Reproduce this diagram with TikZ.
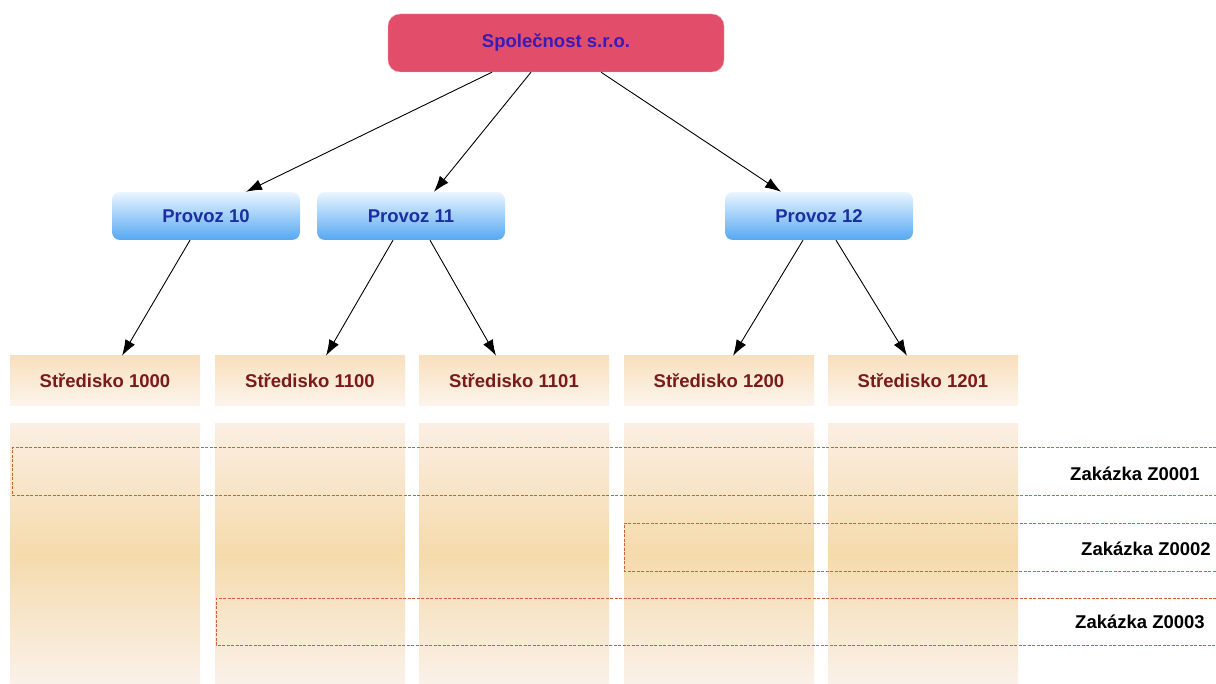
\documentclass[tikz,border=0pt]{standalone}
\usepackage{fontspec}
\setmainfont{Liberation Sans}
\usepackage{tikz}
\usetikzlibrary{arrows.meta}

\definecolor{firmred}{HTML}{E24D69}
\definecolor{firmline}{HTML}{F2A3B3}
\definecolor{firmtext}{HTML}{3B1BB8}
\definecolor{provtop}{HTML}{EAF5FF}
\definecolor{provbot}{HTML}{55A8F2}
\definecolor{provtext}{HTML}{1B2F9E}
\definecolor{strtop}{HTML}{F8E0BE}
\definecolor{strbot}{HTML}{FCF4EC}
\definecolor{strtext}{HTML}{7A1A1A}
\definecolor{coltop}{HTML}{FBEEE3}
\definecolor{colmid}{HTML}{F5DBAC}
\definecolor{colbot}{HTML}{FAF1E9}
\definecolor{zakline}{HTML}{D0603C}

\begin{document}
\begin{tikzpicture}[x=1pt, y=-1pt, >={Latex[length=16pt,width=11pt]},
  every node/.style={font=\bfseries\fontsize{18.5}{21}\selectfont},
  firm/.style={rectangle, rounded corners=12pt, draw=firmline, fill=firmred, text=firmtext, minimum width=336pt, minimum height=58pt},
  provoz/.style={rectangle, rounded corners=8pt, top color=provtop, bottom color=provbot, text=provtext, minimum width=188pt, minimum height=48pt},
  stredisko/.style={rectangle, top color=strtop, bottom color=strbot, text=strtext, minimum width=190pt, minimum height=50pt},
  sloupec/.style={rectangle, top color=coltop, bottom color=colbot, middle color=colmid, minimum width=190pt, minimum height=260pt},
  zakazka/.style={draw=zakline, dash pattern=on 3pt off 1.5pt, line width=1pt},
  link/.style={->, line width=0.9pt}]
  \useasboundingbox (0,0) rectangle (1216,684);

  % columns under the centres
  \foreach \i/\x in {1/105, 2/310, 3/514, 4/719, 5/923}
    \node (col\i) [sloupec] at (\x,554) {};

  \node (firm) [firm] at (556,43) {Společnost s.r.o.};
  \node (p10) [provoz] at (206,216) {Provoz 10};
  \node (p11) [provoz] at (411,216) {Provoz 11};
  \node (p12) [provoz] at (819,216) {Provoz 12};
  \node (s1000) [stredisko] at (105,381) {Středisko 1000};
  \node (s1100) [stredisko] at (310,381) {Středisko 1100};
  \node (s1101) [stredisko] at (514,381) {Středisko 1101};
  \node (s1200) [stredisko] at (719,381) {Středisko 1200};
  \node (s1201) [stredisko] at (923,381) {Středisko 1201};

  \draw[link] ([xshift=-64pt]firm.south) -- ([xshift=40pt]p10.north);
  \draw[link] ([xshift=-25pt]firm.south) -- ([xshift=23pt]p11.north);
  \draw[link] ([xshift=45pt]firm.south) -- ([xshift=-38pt]p12.north);
  \draw[link] ([xshift=-16pt]p10.south) -- ([xshift=17pt]s1000.north);
  \draw[link] ([xshift=-18pt]p11.south) -- ([xshift=16pt]s1100.north);
  \draw[link] ([xshift=19pt]p11.south) -- ([xshift=-18pt]s1101.north);
  \draw[link] ([xshift=-16pt]p12.south) -- ([xshift=14pt]s1200.north);
  \draw[link] ([xshift=17pt]p12.south) -- ([xshift=-16pt]s1201.north);

  % orders
  \draw[zakazka] (1216,448) -| (12,495) -- (1216,495);
  \draw[zakazka] (1216,523) -| (624,571) -- (1216,571);
  \draw[zakazka] (1216,598) -| (216,645) -- (1216,645);
  \node (z1) at (1135,474) {Zakázka Z0001};
  \node (z2) at (1146,549) {Zakázka Z0002};
  \node (z3) at (1140,622) {Zakázka Z0003};
\end{tikzpicture}
\end{document}
